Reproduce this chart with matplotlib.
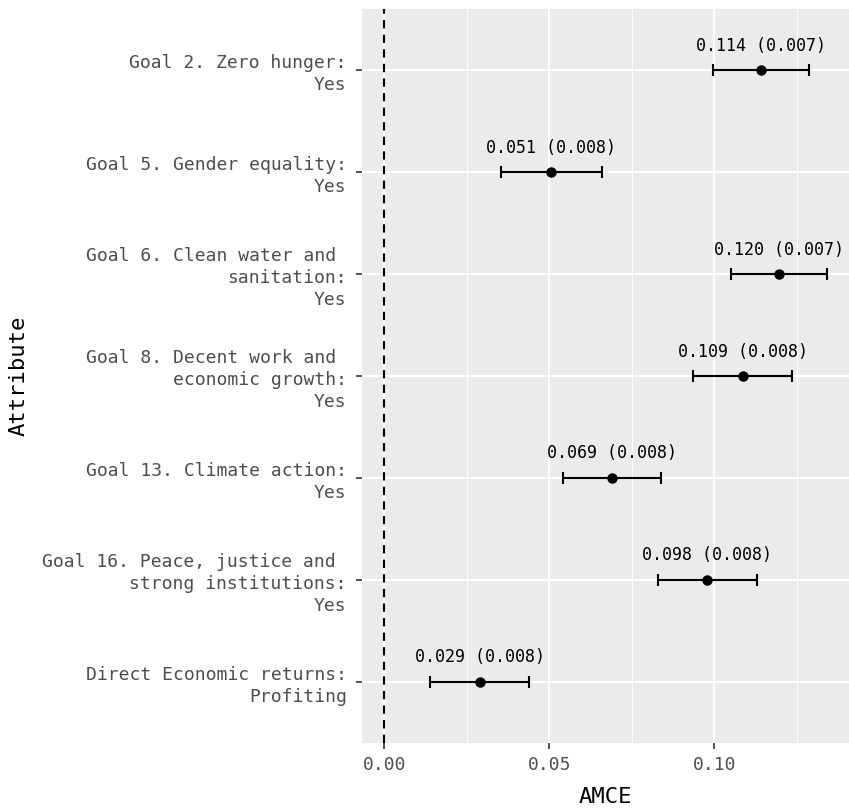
import matplotlib
matplotlib.use("Agg")
import matplotlib.pyplot as plt
import numpy as np

# conjoint results: AMCE per attribute level
attributes = [
    "Goal 2. Zero hunger:\nYes",
    "Goal 5. Gender equality:\nYes",
    "Goal 6. Clean water and \nsanitation:\nYes",
    "Goal 8. Decent work and \neconomic growth:\nYes",
    "Goal 13. Climate action:\nYes",
    "Goal 16. Peace, justice and \nstrong institutions:\nYes",
    "Direct Economic returns:\nProfiting",
]
estimates = [0.1142, 0.0506, 0.1196, 0.1086, 0.0690, 0.0979, 0.0289]
std_errors = [0.0074, 0.0078, 0.0074, 0.0077, 0.0076, 0.0077, 0.0077]
x_ticks = [0.00, 0.05, 0.10]

font = "DejaVu Sans Mono"
plt.rcParams["font.family"] = font

est = np.array(estimates)
se = np.array(std_errors)
lower = est - 1.96 * se
upper = est + 1.96 * se
y = np.arange(len(attributes), 0, -1)

W, H = 849, 808
fig = plt.figure(figsize=(W / 100, H / 100), dpi=100)
ax = fig.add_axes([362 / W, (808 - 743) / H, (849 - 362) / W, (743 - 9) / H])
ax.set_facecolor("#EBEBEB")

# grid like ggplot theme_gray
lo = min(0, lower.min())
hi = upper.max()
pad = (hi - lo) * 0.05
ax.set_xlim(lo - pad, hi + pad)
ax.set_ylim(0.4, len(attributes) + 0.6)
for v in [0.025, 0.075, 0.125]:
    ax.axvline(v, color="white", lw=0.7, zorder=0)
for v in x_ticks:
    ax.axvline(v, color="white", lw=1.4, zorder=0)
for v in y:
    ax.axhline(v, color="white", lw=1.4, zorder=0)

ax.axvline(0, color="black", lw=1.5, ls=(0, (4, 3)), zorder=1)

ax.errorbar(est, y, xerr=1.96 * se, fmt="o", color="black", ms=6.5,
            elinewidth=1.5, capsize=4, capthick=1.5, zorder=3)

for xi, yi, e, s in zip(est, y, estimates, std_errors):
    ax.text(xi, yi + 0.24, f"{e:.3f} ({s:.3f})", ha="center", va="center",
            fontsize=12, color="black")

ax.set_xticks(x_ticks)
ax.set_xticklabels([f"{v:.2f}" for v in x_ticks])
ax.set_yticks(y)
ax.set_yticklabels(attributes, linespacing=1.3)
ax.tick_params(axis="both", length=4, width=1.2, color="#333333",
               labelcolor="#4D4D4D", labelsize=13)
ax.tick_params(axis="y", pad=7)
ax.tick_params(axis="x", pad=5)
for s in ax.spines.values():
    s.set_visible(False)

ax.set_xlabel("AMCE", fontsize=16, labelpad=10)
ax.set_ylabel("Attribute", fontsize=16, labelpad=10)

fig.savefig("out.png", dpi=100)
